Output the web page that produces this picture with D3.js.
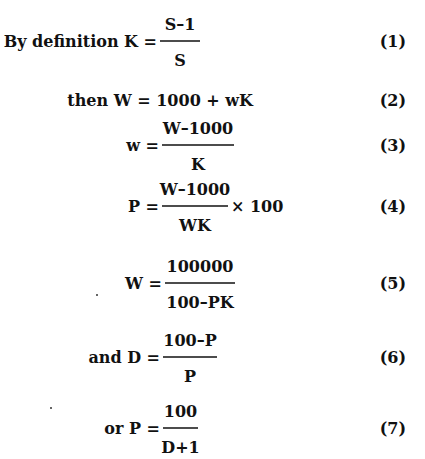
<!DOCTYPE html>
<html><head><meta charset="utf-8">
<script src="https://cdn.jsdelivr.net/npm/d3@7"></script>
<style>body{margin:0;background:#fff}</style></head>
<body><svg id="c" width="425" height="459"></svg>
<script>
const labels = ["(1)","(2)","(3)","(4)","(5)","(6)","(7)"];
const lhs = ["By definition K =","then W = 1000 + wK","w =","P =","W =","and D =","or P ="];
const numerators = ["S–1",null,"W–1000","W–1000","100000","100–P","100"];
const denominators = ["S",null,"K","WK","100–PK","P","D+1"];
const suffixes = ["","","","× 100","","",""];
// layout
const rowY = [41,100,145,206,283,357,428];
const barLeft = [160,null,162,162,165,163,163];
const barRight = [200,null,234,228,235,217,198];

const svg = d3.select("#c");
const font = "DejaVu Serif";
const fs = 16;
const y = d3.scaleOrdinal().domain(labels).range(rowY);
const g = svg.selectAll("g.eq").data(labels).join("g").attr("class","eq");
const txt = (sel)=>sel.attr("font-family",font).attr("font-weight","bold").attr("font-size",fs).attr("fill","#111");

g.each(function(l,i){
  const gg = d3.select(this);
  const cy = y(l);
  txt(gg.append("text")).attr("x",406).attr("y",cy+6).attr("text-anchor","end").text(l);
  if(numerators[i]===null){
    txt(gg.append("text")).attr("x",253).attr("y",cy+6).attr("text-anchor","end").text(lhs[i]);
    return;
  }
  const x0=barLeft[i], x1=barRight[i], xm=(x0+x1)/2;
  txt(gg.append("text")).attr("x",x0-3).attr("y",cy+6).attr("text-anchor","end").text(lhs[i]);
  gg.append("line").attr("x1",x0).attr("x2",x1).attr("y1",cy).attr("y2",cy).attr("stroke","#111").attr("stroke-width",1.3);
  txt(gg.append("text")).attr("x",xm).attr("y",cy-11).attr("text-anchor","middle").text(numerators[i]);
  txt(gg.append("text")).attr("x",xm).attr("y",cy+25).attr("text-anchor","middle").text(denominators[i]);
  if(suffixes[i]) txt(gg.append("text")).attr("x",x1+3).attr("y",cy+6).text(suffixes[i]);
});
svg.append("circle").attr("cx",97).attr("cy",295).attr("r",1).attr("fill","#333");
svg.append("circle").attr("cx",51).attr("cy",408).attr("r",1).attr("fill","#333");
</script></body></html>
